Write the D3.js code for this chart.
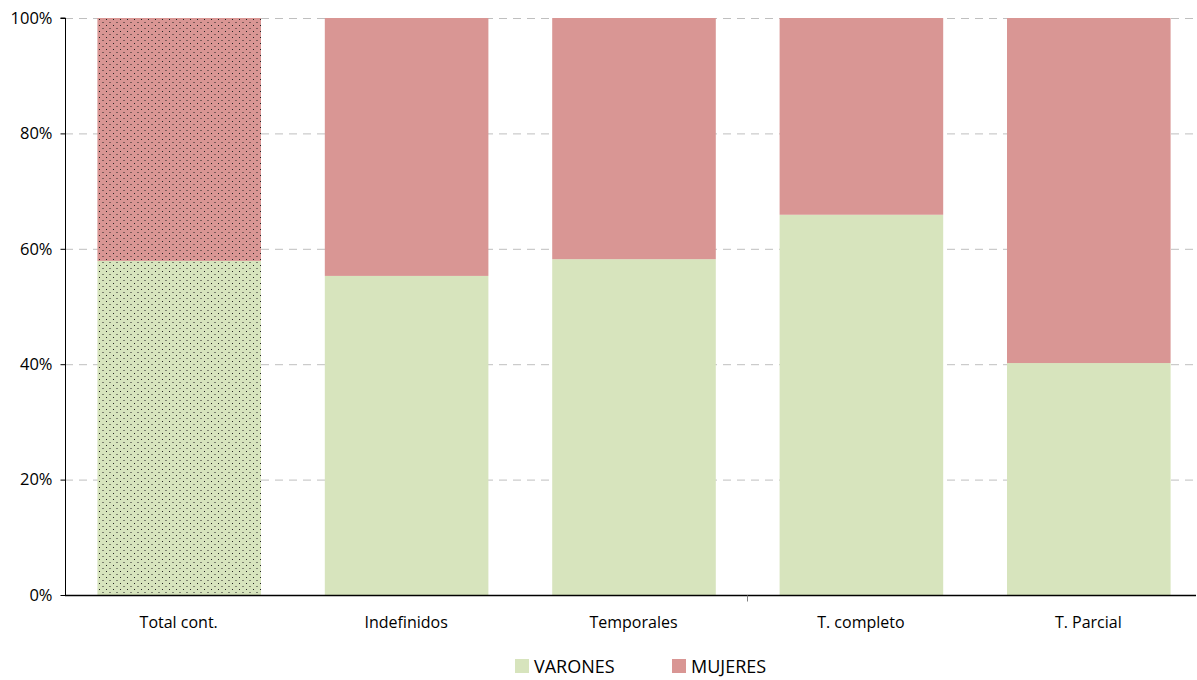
<!DOCTYPE html>
<html>
<head>
<meta charset="utf-8">
<script src="https://cdn.jsdelivr.net/npm/d3@7"></script>
<style>
  body { margin: 0; background: #fff; }
  svg text { font-family: "Open Sans", "DejaVu Sans", sans-serif; fill: #000; }
</style>
</head>
<body>
<div id="chart"></div>
<script>
// categories and shares (fraction of each column)
var categories = ['Total cont.', 'Indefinidos', 'Temporales', 'T. completo', 'T. Parcial'];
var varones = [0.579, 0.553, 0.582, 0.659, 0.402];
var mujeres = [0.421, 0.447, 0.418, 0.341, 0.598];
var seriesNames = ['VARONES', 'MUJERES'];
var yTicks = [0, 0.2, 0.4, 0.6, 0.8, 1];

var width = 1197, height = 680;
var margin = { top: 18, right: -5, bottom: 85, left: 65 };

var svg = d3.select('#chart').append('svg')
  .attr('width', width)
  .attr('height', height);

// dotted fill for the first column
var defs = svg.append('defs');
[['dotsGreen', '#d7e4bd'], ['dotsPink', '#d99694']].forEach(function(p) {
  var pat = defs.append('pattern')
    .attr('id', p[0])
    .attr('patternUnits', 'userSpaceOnUse')
    .attr('width', 7).attr('height', 6);
  pat.append('rect').attr('width', 7).attr('height', 6).attr('fill', p[1]);
  pat.append('rect').attr('x', 1).attr('y', 1).attr('width', 1).attr('height', 1).attr('fill', '#222');
  pat.append('rect').attr('x', 4.5).attr('y', 4).attr('width', 1).attr('height', 1).attr('fill', '#222');
});

var x = d3.scaleBand()
  .domain(categories)
  .range([margin.left, width - margin.right])
  .paddingInner(0.285)
  .paddingOuter(0.1425);

var y = d3.scaleLinear()
  .domain([0, 1])
  .range([height - margin.bottom, margin.top]);

// gridlines
svg.append('g').selectAll('line')
  .data(yTicks.slice(1))
  .enter().append('line')
    .attr('x1', margin.left)
    .attr('x2', width - 2)
    .attr('y1', function(d) { return y(d) + 0.5; })
    .attr('y2', function(d) { return y(d) + 0.5; })
    .attr('stroke', '#bfbfbf')
    .attr('stroke-dasharray', '8,6');

var colors = ['#d7e4bd', '#d99694'];
var patterns = ['url(#dotsGreen)', 'url(#dotsPink)'];

var rows = categories.map(function(c, i) {
  return { cat: c, idx: i, v: varones[i], m: mujeres[i] };
});

// varones at the bottom
svg.append('g').selectAll('rect')
  .data(rows)
  .enter().append('rect')
    .attr('x', function(d) { return x(d.cat); })
    .attr('width', x.bandwidth() + 1)
    .attr('y', function(d) { return y(d.v); })
    .attr('height', function(d) { return y(0) - y(d.v); })
    .attr('fill', function(d) { return d.idx === 0 ? patterns[0] : colors[0]; });

// mujeres on top
svg.append('g').selectAll('rect')
  .data(rows)
  .enter().append('rect')
    .attr('x', function(d) { return x(d.cat); })
    .attr('width', x.bandwidth() + 1)
    .attr('y', function(d) { return y(d.v + d.m); })
    .attr('height', function(d) { return y(d.v) - y(d.v + d.m); })
    .attr('fill', function(d) { return d.idx === 0 ? patterns[1] : colors[1]; });

// y axis
var yAxis = svg.append('g')
  .attr('transform', 'translate(' + (margin.left + 0.5) + ',0)')
  .call(d3.axisLeft(y).tickValues(yTicks).tickFormat(d3.format('.0%')).tickSize(5).tickPadding(8));
yAxis.select('.domain').attr('stroke', '#000').attr('d', 'M-5,' + margin.top + 'H0V' + (height - margin.bottom));
yAxis.selectAll('.tick line').attr('stroke', '#000');
yAxis.selectAll('text').attr('font-size', '16.5px').attr('fill', '#000');

// x axis
var xAxis = svg.append('g')
  .attr('transform', 'translate(0,' + (height - margin.bottom + 0.5) + ')')
  .call(d3.axisBottom(x).tickSize(0).tickPadding(21));
xAxis.select('.domain').attr('stroke', '#000').attr('stroke-width', 1.5)
  .attr('d', 'M' + margin.left + ',0H' + (width - 1));
xAxis.selectAll('text').attr('font-size', '16px').attr('fill', '#000');
// single tick mark between T. completo and Temporales
var bnd = (x('Temporales') + x.bandwidth() + x('T. completo')) / 2;
xAxis.append('line')
  .attr('x1', Math.round(bnd) + 0.5).attr('x2', Math.round(bnd) + 0.5)
  .attr('y1', 0).attr('y2', 6)
  .attr('stroke', '#808080');

// legend
var legend = svg.append('g').attr('transform', 'translate(515,659)');
var item = legend.selectAll('g')
  .data(seriesNames)
  .enter().append('g')
    .attr('transform', function(d, i) { return 'translate(' + (i * 157) + ',0)'; });
item.append('rect')
  .attr('width', 14).attr('height', 14)
  .attr('fill', function(d, i) { return colors[i]; });
item.append('text')
  .attr('x', 19).attr('y', 14)
  .attr('font-size', '18px')
  .text(function(d) { return d; });
</script>
</body>
</html>
